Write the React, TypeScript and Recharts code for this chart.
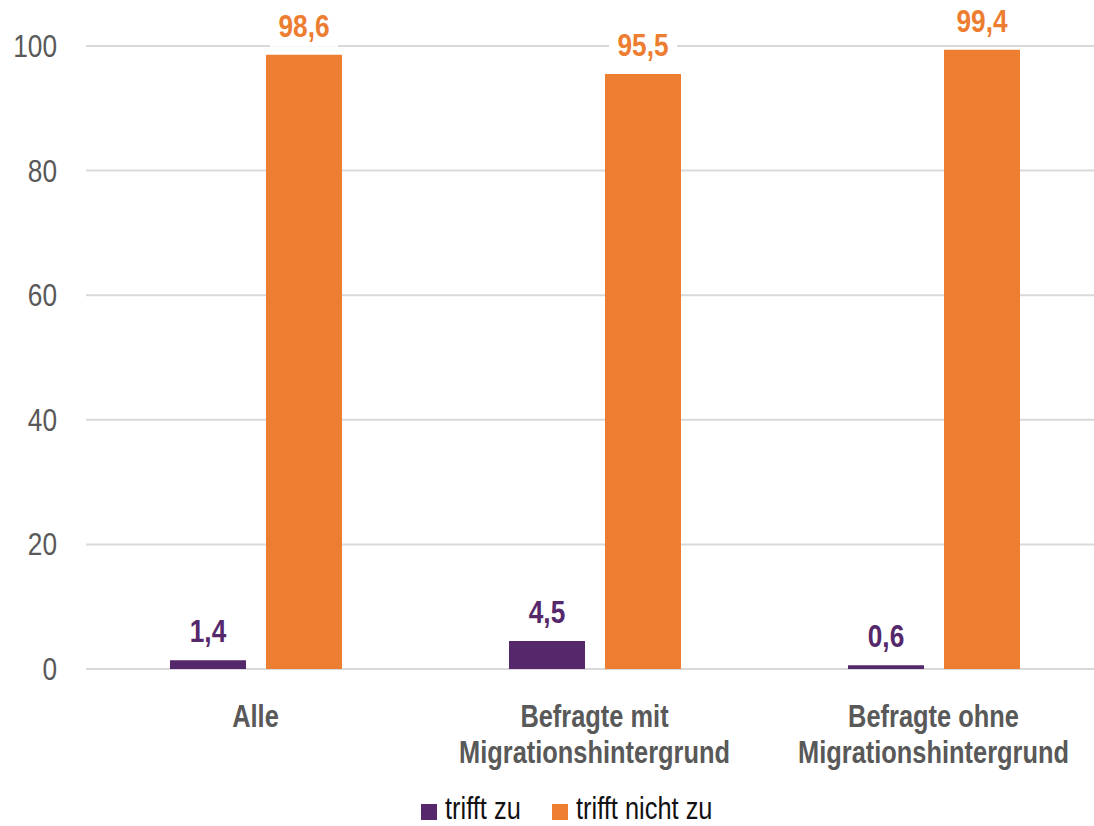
import React from "react";
import {
  Bar,
  XAxis,
  YAxis,
  Legend,
  BarChart,
  LabelList,
  CartesianGrid,
} from "recharts";

const categories = [
  "Alle",
  "Befragte mit\nMigrationshintergrund",
  "Befragte ohne\nMigrationshintergrund",
];
const triffZu = [1.4, 4.5, 0.6];
const triffNichtZu = [98.6, 95.5, 99.4];
const yTicks = [0, 20, 40, 60, 80, 100];
const seriesNames = ["trifft zu", "trifft nicht zu"];

const PURPLE = "#55276B";
const ORANGE = "#ED7D31";
const GRAY = "#595959";
// Liberation Sans squeezed horizontally stands in for Arial Narrow
const FONT = "'Liberation Sans', Arial, sans-serif";
const NARROW = 0.82;

const data = categories.map((name, i) => ({
  name,
  zu: triffZu[i],
  nichtZu: triffNichtZu[i],
}));

const fmt = (v: number) => v.toFixed(1).replace(".", ",");

const NarrowText = ({ x, y, children, ...rest }: any) => (
  <text
    transform={`translate(${x},${y}) scale(${NARROW},1)`}
    x={0}
    y={0}
    fontFamily={FONT}
    {...rest}
  >
    {children}
  </text>
);

const CategoryTick = (props: any) => {
  const { x, y, payload } = props;
  const lines = String(payload.value).split("\n");
  return (
    <g>
      {lines.map((line, i) => (
        <NarrowText
          key={i}
          x={x}
          y={y + 50 + i * 36}
          textAnchor="middle"
          fill={GRAY}
          fontSize={31}
          fontWeight="bold"
        >
          {line}
        </NarrowText>
      ))}
    </g>
  );
};

const ValueTick = (props: any) => {
  const { x, y, payload } = props;
  return (
    <NarrowText x={x} y={y + 11} textAnchor="end" fill={GRAY} fontSize={32}>
      {payload.value}
    </NarrowText>
  );
};

const valueLabel = (color: string) => (props: any) => {
  const { x, y, width, value } = props;
  const cx = x + width / 2;
  return (
    <g>
      <rect x={cx - 34} y={y - 50} width={68} height={42} fill="#fff" />
      <NarrowText
        x={cx}
        y={y - 18}
        textAnchor="middle"
        fill={color}
        fontSize={32}
        fontWeight="bold"
      >
        {fmt(Number(value))}
      </NarrowText>
    </g>
  );
};

const legendX = [421, 552];

const LegendContent = () => {
  const colors = [PURPLE, ORANGE];
  return (
    <svg width={1094} height={36} style={{ display: "block" }}>
      {seriesNames.map((n, i) => (
        <g key={n}>
          <rect x={legendX[i]} y={14} width={16} height={16} fill={colors[i]} />
          <NarrowText x={legendX[i] + 24} y={29} fill="#111" fontSize={31}>
            {n}
          </NarrowText>
        </g>
      ))}
    </svg>
  );
};

export default function App() {
  return (
    <div
      style={{
        position: "absolute",
        left: 0,
        top: 0,
        width: 1094,
        height: 826,
        overflow: "hidden",
        background: "#fff",
      }}
    >
      <BarChart
        width={1103}
        height={826}
        data={data}
        margin={{ top: 46, right: 0, bottom: 0, left: 0 }}
        barSize={76}
        barGap={20}
      >
        <CartesianGrid vertical={false} stroke="#D9D9D9" strokeWidth={2} />
        <XAxis
          dataKey="name"
          height={157}
          axisLine={false}
          tickLine={false}
          interval={0}
          tick={<CategoryTick />}
        />
        <YAxis
          width={86}
          domain={[0, 100]}
          ticks={yTicks}
          axisLine={false}
          tickLine={false}
          tickMargin={23}
          tick={<ValueTick />}
        />
        <Legend
          layout="horizontal"
          verticalAlign="middle"
          align="center"
          wrapperStyle={{ top: 790, left: 0, width: 1094 }}
          content={<LegendContent />}
        />
        <Bar dataKey="zu" name={seriesNames[0]} fill={PURPLE} isAnimationActive={false}>
          <LabelList dataKey="zu" content={valueLabel(PURPLE)} />
        </Bar>
        <Bar dataKey="nichtZu" name={seriesNames[1]} fill={ORANGE} isAnimationActive={false}>
          <LabelList dataKey="nichtZu" content={valueLabel(ORANGE)} />
        </Bar>
      </BarChart>
    </div>
  );
}
